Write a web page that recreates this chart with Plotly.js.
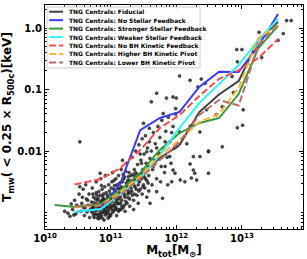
<!DOCTYPE html>
<html><head><meta charset="utf-8">
<script src="https://cdn.plot.ly/plotly-3.0.1.min.js"></script>
<style>html,body{margin:0;padding:0;background:#fff}#chart{width:307px;height:259px}</style>
</head><body><div id="chart"></div>
<script>
// ---- data ----
const seriesNames = [
  'TNG Centrals: Fiducial',
  'TNG Centrals: No Stellar Feedback',
  'TNG Centrals: Stronger Stellar Feedback',
  'TNG Centrals: Weaker Stellar Feedback',
  'TNG Centrals: No BH Kinetic Feedback',
  'TNG Centrals: Higher BH Kinetic Pivot',
  'TNG Centrals: Lower BH Kinetic Pivot'
];
const massBins = [2.82e10, 7.08e10, 1.41e11, 2.82e11, 5.62e11, 1.12e12, 2.24e12, 4.47e12, 8.91e12, 1.78e13, 3.55e13];
const massBinsStrong = [1.41e10, 2.82e10, 7.08e10, 1.41e11, 2.82e11, 5.62e11, 1.12e12, 2.24e12, 4.47e12, 8.91e12, 1.78e13, 3.55e13];
const tFiducial   = [0.00123, 0.00137, 0.00215, 0.0041, 0.0077, 0.0125, 0.043, 0.083, 0.137, 0.64, 1.25];
const tNoStellar  = [0.00102, 0.00114, 0.00302, 0.0219, 0.0344, 0.0431, 0.110, 0.195, 0.193, 0.509, 1.69];
const tStronger   = [0.00132, 0.00123, 0.00137, 0.00232, 0.00439, 0.0104, 0.0196, 0.0285, 0.0344, 0.0845, 0.473, 1.08];
const tWeaker     = [0.00102, 0.00114, 0.0020, 0.00364, 0.0086, 0.0237, 0.0603, 0.121, 0.25, 0.64, 1.40];
const tNoBHKin    = [0.00285, 0.0035, 0.0053, 0.0104, 0.0237, 0.0385, 0.0784, 0.148, 0.207, 0.325, 0.66];
const tHigherBH   = [0.00123, 0.00131, 0.00215, 0.0039, 0.0086, 0.0151, 0.0296, 0.040, 0.106, 0.69, 1.12];
const tLowerBH    = [0.00127, 0.00131, 0.00193, 0.0036, 0.0071, 0.014, 0.0385, 0.0675, 0.055, 0.53, 1.21];
// individual haloes: [log10 M_tot, log10 T_mw]
const haloPoints = [
 [10.38,-3.06],[10.42,-2.95],[10.45,-2.80],[10.47,-3.02],[10.50,-2.90],[10.52,-2.70],[10.55,-2.98],[10.56,-2.85],[10.58,-2.62],[10.60,-3.05],[10.61,-2.92],[10.63,-2.78],[10.64,-2.99],[10.66,-2.88],[10.67,-2.70],[10.68,-3.08],[10.69,-2.95],[10.30,-2.98],[10.44,-3.04],[10.53,-2.58],[10.62,-2.55],
 [10.71,-2.83],[10.72,-3.00],[10.73,-2.92],[10.74,-2.75],[10.75,-3.08],[10.76,-2.88],[10.77,-2.97],[10.78,-2.68],[10.79,-3.03],[10.80,-2.80],[10.81,-2.93],[10.82,-3.10],[10.83,-2.86],[10.84,-2.72],[10.85,-2.99],[10.86,-3.05],[10.87,-2.62],[10.88,-2.90],[10.89,-2.78],[10.90,-3.12],[10.91,-2.95],[10.92,-2.84],[10.93,-2.68],[10.94,-3.02],[10.95,-2.91],[10.96,-2.76],[10.97,-2.55],[10.98,-3.07],[10.99,-2.87],[11.00,-2.70],[10.72,-2.60],[10.78,-2.50],[10.85,-2.45],[10.88,-3.00],[10.93,-2.98],[10.96,-3.09],[10.80,-2.96],[10.75,-2.84],[10.83,-3.02],[10.90,-2.80],[10.92,-2.40],[10.98,-2.65],[10.86,-2.92],[10.94,-2.85],[10.97,-2.97],[10.74,-2.95],[10.81,-2.77],[10.89,-2.70],[10.99,-3.03],[11.00,-2.92],
 [11.01,-2.60],[11.02,-2.82],[11.03,-3.00],[11.04,-2.72],[11.05,-2.48],[11.06,-2.90],[11.07,-2.65],[11.08,-2.78],[11.09,-3.05],[11.10,-2.55],[11.11,-2.86],[11.12,-2.40],[11.13,-2.70],[11.14,-2.95],[11.15,-2.62],[11.16,-2.30],[11.17,-2.80],[11.18,-2.50],[11.19,-2.92],[11.20,-2.68],[11.21,-2.42],[11.22,-2.75],[11.23,-2.58],[11.24,-2.20],[11.25,-2.85],[11.26,-2.48],[11.27,-2.66],[11.28,-2.35],[11.29,-2.78],[11.30,-2.55],[11.03,-2.35],[11.08,-2.92],[11.12,-2.98],[11.15,-2.85],[11.18,-2.15],[11.22,-2.98],[11.26,-2.70],[11.06,-2.75],[11.11,-2.60],[11.20,-2.45],[11.14,-2.52],[11.25,-2.62],[11.02,-2.95],[11.09,-2.82],[11.29,-2.90],
 [11.31,-2.40],[11.32,-2.65],[11.33,-2.10],[11.34,-2.52],[11.35,-2.80],[11.36,-2.30],[11.37,-2.58],[11.38,-2.00],[11.39,-2.45],[11.40,-2.72],[11.41,-2.22],[11.42,-2.55],[11.43,-1.90],[11.44,-2.38],[11.45,-2.62],[11.46,-2.15],[11.47,-2.45],[11.48,-1.80],[11.49,-2.30],[11.50,-2.55],[11.51,-2.05],[11.52,-2.35],[11.53,-1.75],[11.54,-2.20],[11.55,-2.48],[11.56,-1.95],[11.57,-2.25],[11.58,-2.65],[11.59,-1.85],[11.60,-2.12],[11.35,-2.95],[11.42,-2.85],[11.48,-2.70],[11.55,-2.75],[11.38,-2.35],[11.45,-2.05],[11.52,-2.60],[11.58,-2.40],
 [11.62,-2.00],[11.64,-2.30],[11.65,-1.70],[11.67,-2.15],[11.68,-1.88],[11.70,-2.45],[11.72,-1.60],[11.73,-2.05],[11.75,-1.78],[11.77,-2.25],[11.78,-1.50],[11.80,-1.95],[11.82,-2.35],[11.84,-1.68],[11.86,-2.10],[11.88,-1.45],[11.90,-1.85],[11.92,-2.20],[11.95,-1.60],[11.97,-1.95],[11.99,-1.40],[11.63,-2.55],[11.70,-1.95],[11.76,-2.50],[11.83,-1.85],[11.93,-1.70],
 [10.70,-2.97],[10.73,-2.70],[10.76,-3.02],[10.79,-2.86],[10.82,-2.66],[10.84,-3.07],[10.87,-2.80],[10.90,-2.99],[10.91,-2.58],[10.95,-2.72],[10.97,-2.83],[11.00,-3.05],[11.02,-2.50],[11.04,-2.88],[11.07,-2.95],[11.10,-2.74],[11.13,-2.85],[11.16,-2.58],[11.19,-2.38],[11.21,-2.88],[11.24,-2.52],[11.27,-2.42],[11.30,-2.68],[11.33,-2.48],[11.36,-2.70],[11.40,-2.38],[11.44,-2.50],[11.47,-2.20],[11.51,-2.42],[11.56,-2.30],[10.77,-2.78],[10.81,-3.05],[10.86,-2.56],[10.88,-2.74],[10.93,-2.90],[10.99,-2.78],[11.05,-2.62],[11.08,-2.45],[11.17,-2.68],[11.23,-2.33],[10.65,-2.80],[10.59,-2.92],[10.57,-2.75],[10.48,-2.88],[10.40,-2.86],[10.35,-3.01],
 [10.71,-2.90],[10.74,-3.05],[10.77,-2.90],[10.80,-3.09],[10.83,-2.94],[10.85,-2.82],[10.87,-3.09],[10.89,-2.95],[10.91,-2.88],[10.92,-3.04],[10.94,-2.78],[10.96,-2.93],[10.98,-2.82],[11.01,-2.90],[11.03,-2.78],[11.05,-2.97],[11.07,-2.85],[11.09,-2.70],[11.11,-2.95],[11.13,-2.62],[11.15,-2.75],[11.17,-2.90],[11.19,-2.60],[11.21,-2.72],[11.23,-2.82],[11.25,-2.55],[11.27,-2.76],[11.29,-2.48],[11.31,-2.60],[11.33,-2.72],[11.35,-2.55],[11.37,-2.42],[11.39,-2.62],[11.41,-2.48],[11.43,-2.65],[11.46,-2.40],[11.49,-2.58],[11.53,-2.45],[11.57,-2.52],[10.79,-2.72],[10.84,-2.90],[10.88,-2.84],[10.95,-3.00],[11.00,-2.80],[11.06,-2.56],[11.12,-2.78],[11.16,-2.95],[11.22,-2.62],[11.28,-2.58],[11.34,-2.38],
 [12.49,-2.01],[12.21,-2.21],[12.26,-2.31],[12.06,-2.47],[12.23,-2.44],[11.79,-2.77],[11.70,-2.66],[11.60,-2.85],[11.93,-2.50],[11.87,-2.55],[11.98,-2.36],
 [10.53,-1.85],[13.26,-0.07],[12.92,-0.35],[13.00,-0.35],[12.93,-0.55],[12.85,-0.79],[13.63,-0.09],[13.30,-0.48],[12.05,-0.78],[12.21,-0.85],[12.38,-0.83],[12.44,-0.90],[12.33,-0.96],[11.95,-1.12],[12.00,-1.14],[12.87,-1.05],[13.02,-1.33],[13.01,-1.58],[12.93,-1.62],[12.70,-1.93],[12.49,-2.00],[12.26,-2.09],[12.28,-2.36],[12.31,-2.47],[12.13,-2.50],[12.36,-1.69],[12.21,-1.60],[12.05,-1.69],[11.70,-1.06],[11.50,-1.55],[11.59,-1.63],[11.80,-1.39],[11.62,-1.20],[11.99,-1.31],[12.70,-1.28],[12.61,-1.41],[12.46,-1.33],[13.55,-0.20],[11.85,-1.14],[10.84,-2.36],[11.55,-2.01],[11.90,-2.09],[11.75,-2.04],[11.83,-2.25],[11.95,-2.31],[12.00,-1.93],[12.16,-1.88],[12.36,-2.09],[12.49,-2.36],[11.65,-2.25],[13.68,0.12],[13.75,0.12]
];
const xTickVals = [1e10, 1e11, 1e12, 1e13];
const xTickText = ['10<sup>10</sup>', '10<sup>11</sup>', '10<sup>12</sup>', '10<sup>13</sup>'];
const yTickVals = [0.01, 0.1, 1.0];
const yTickText = ['0.01', '0.1', '1.0'];

// ---- styles ----
const lineColors = ['#404040', '#3a3aff', '#3b9b3b', '#33f5f5', '#ff4a4a', '#ffb733', '#c06a6a'];
const lineDash = ['solid', 'solid', 'solid', 'solid', '7px,3px', '7px,3px', '7px,3px'];
const seriesX = [massBins, massBins, massBinsStrong, massBins, massBins, massBins, massBins];
const seriesY = [tFiducial, tNoStellar, tStronger, tWeaker, tNoBHKin, tHigherBH, tLowerBH];

const traces = [{
  type: 'scatter', mode: 'markers',
  x: haloPoints.map(p => Math.pow(10, p[0])),
  y: haloPoints.map(p => Math.pow(10, p[1])),
  marker: {size: 3, color: 'rgba(55,55,55,0.9)', line: {width: 0.5, color: '#111'}},
  showlegend: false, hoverinfo: 'skip'
}];
seriesNames.forEach((n, i) => {
  traces.push({type: 'scatter', mode: 'lines', name: n, x: seriesX[i], y: seriesY[i],
    line: {color: lineColors[i], width: 2, dash: lineDash[i]}, showlegend: false});
});

// custom compact legend
const shapes = [{type: 'rect', xref: 'paper', yref: 'paper', x0: 0.008, x1: 0.601, y0: 0.719, y1: 0.991,
  fillcolor: 'rgba(255,255,255,0.85)', line: {color: '#cccccc', width: 1}}];
const annotations = [];
seriesNames.forEach((n, i) => {
  const yy = 0.970 - i * 0.0377;
  shapes.push({type: 'line', xref: 'paper', yref: 'paper', x0: 0.016, x1: 0.070, y0: yy, y1: yy,
    line: {color: lineColors[i], width: 2, dash: lineDash[i]}});
  annotations.push({xref: 'paper', yref: 'paper', x: 0.085, y: yy, xanchor: 'left', yanchor: 'middle',
    text: n, showarrow: false, font: {family: 'DejaVu Sans', size: 6, weight: 'bold', color: '#000'}});
});

const layout = {
  width: 307, height: 259,
  margin: {l: 45, r: 4, t: 5, b: 30},
  paper_bgcolor: '#fff', plot_bgcolor: '#fff',
  font: {family: 'DejaVu Sans', color: '#000'},
  showlegend: false,
  xaxis: {type: 'log', range: [10, 13.93], tickvals: xTickVals, ticktext: xTickText,
    ticks: 'inside', ticklen: 4, tickwidth: 1, tickcolor: '#000', mirror: 'allticks',
    showline: true, linecolor: '#000', linewidth: 1, showgrid: false, zeroline: false,
    minor: {ticks: 'inside', ticklen: 2, tickcolor: '#000', dtick: 'D1', showgrid: false},
    tickfont: {size: 10, weight: 'bold', family: 'DejaVu Sans'},
    title: {text: 'M<sub>tot</sub>[M<sub>\u2299</sub>]', font: {size: 12, weight: 'bold'}, standoff: 2}},
  yaxis: {type: 'log', range: [-3.268, 0.374], tickvals: yTickVals, ticktext: yTickText,
    ticks: 'inside', ticklen: 4, tickwidth: 1, tickcolor: '#000', mirror: 'allticks',
    showline: true, linecolor: '#000', linewidth: 1, showgrid: false, zeroline: false,
    minor: {ticks: 'inside', ticklen: 2, tickcolor: '#000', dtick: 'D1', showgrid: false},
    tickfont: {size: 10, weight: 'bold', family: 'DejaVu Sans'},
    title: {text: 'T<sub>mw</sub>( < 0.25 \u00d7 R<sub>500c</sub>)[keV]', font: {size: 12, weight: 'bold'}, standoff: 4}},
  shapes: shapes, annotations: annotations
};
Plotly.newPlot('chart', traces, layout, {staticPlot: true, displayModeBar: false});
</script></body></html>
